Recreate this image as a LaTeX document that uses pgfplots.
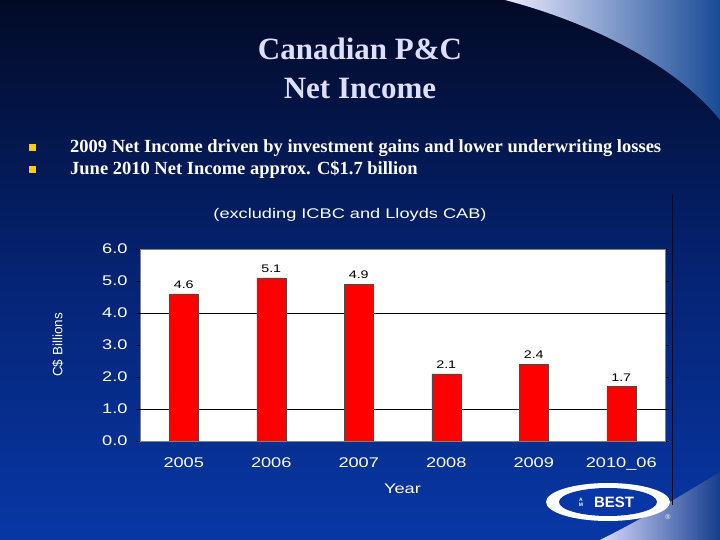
\documentclass[border=0pt]{standalone}
\usepackage{pgfplots}
\pgfplotsset{compat=1.18}
\usepackage{fontspec}
\setmainfont{Liberation Serif}
\newfontfamily\sans{Liberation Sans}
\newfontfamily\wsans[FakeStretch=1.3]{Liberation Sans}
\definecolor{navytop}{RGB}{2,10,38}
\definecolor{navymid}{RGB}{5,35,115}
\definecolor{navybot}{RGB}{8,55,165}
\definecolor{titlecol}{RGB}{222,222,255}
\definecolor{bulletcol}{RGB}{255,204,0}
\definecolor{gridgray}{RGB}{128,128,128}
\definecolor{barred}{RGB}{255,0,0}
\pgfplotstableread{
x y
0 4.6
1 5.1
2 4.9
3 2.1
4 2.4
5 1.7
}\netincome
\begin{document}
\begin{tikzpicture}[x=1pt,y=1pt]
\useasboundingbox (0,0) rectangle (720,540);
% background
\shade[top color=navytop, bottom color=navybot, middle color=navymid] (0,0) rectangle (720,540);
% top-right swoosh
\shade[left color=white!92!blue, right color={rgb,255:red,25;green,75;blue,150}]
  (505,540) .. controls (600,515) and (680,470) .. (720,420) -- (720,540) -- cycle;
% bottom-right swoosh
\shade[left color=white!85!blue, right color={rgb,255:red,20;green,60;blue,140}]
  (600,0) .. controls (650,25) and (690,50) .. (720,68) -- (720,0) -- cycle;
% title
\node[font=\bfseries\fontsize{31}{33}\selectfont, text=titlecol] at (360,491) {Canadian P\&C};
\node[font=\bfseries\fontsize{31}{33}\selectfont, text=titlecol] at (360,451) {Net Income};
% bullets
\fill[bulletcol] (29,389) rectangle (36,396);
\fill[bulletcol] (29,367) rectangle (36,374);
\node[anchor=base west, inner sep=0pt, text=white, font=\bfseries\fontsize{18.5}{20}\selectfont] at (70,387) {2009 Net Income driven by investment gains and lower underwriting losses};
\node[anchor=base west, inner sep=0pt, text=white, font=\bfseries\fontsize{18.5}{20}\selectfont] at (70,365) {June 2010 Net Income approx. C\$1.7 billion};
% chart frame line
\draw[navytop, line width=0.8pt] (672,345) -- (672,35);
% subtitle
\node[anchor=base, text=white, font=\wsans\fontsize{14}{16}\selectfont] at (350,321) {(excluding ICBC and Lloyds CAB)};
\begin{axis}[
  at={(140pt,99pt)}, anchor=south west,
  scale only axis, width=525pt, height=192pt,
  xmin=-0.5, xmax=5.5, ymin=0, ymax=6,
  xtick=data,
  xticklabels={2005,2006,2007,2008,2009,2010\_06},
  ytick={0,1,2,3,4,5,6},
  yticklabel style={xshift=-5pt, /pgf/number format/.cd, fixed, fixed zerofill, precision=1},
  /pgf/number format/assume math mode=true,
  tick label style={text=white, font=\wsans\fontsize{14}{15}\selectfont},
  xtick style={draw=none},
  ytick style={draw=black, thin},
  tick align=outside, major tick length=4pt,
  xticklabel style={yshift=-9pt},
  axis line style={gridgray, thick},
  axis background/.style={fill=white},
  extra y ticks={1,4}, extra y tick labels={},
  extra y tick style={grid=major, major grid style={black, semithick}, tick style={draw=none}},
  xlabel={Year}, ylabel={C\$ Billions},
  xlabel style={text=white, font=\wsans\fontsize{14}{16}\selectfont, yshift=-7pt},
  ylabel style={text=white, font=\sans\fontsize{13.5}{16}\selectfont, yshift=24pt},
  nodes near coords,
  every node near coord/.append style={yshift=2pt, text=black, font=\wsans\fontsize{11}{12}\selectfont, /pgf/number format/.cd, fixed, fixed zerofill, precision=1},
]
\addplot[ybar, bar width=29pt, fill=barred, draw=black!70, line width=0.5pt] table[x=x,y=y] {\netincome};
\end{axis}
% AM Best logo
\fill[white] (608,38) ellipse (62pt and 19pt);
\fill[navybot] (608,38) ellipse (49pt and 14pt);
\node[text=white, font=\sans\bfseries\fontsize{15}{16}\selectfont] at (614,38) {BEST};
\node[text=white, font=\sans\bfseries\fontsize{5}{5}\selectfont, align=center, inner sep=0pt] at (581,38) {A\\M};
\node[text=white, font=\sans\fontsize{7}{7}\selectfont] at (668,23) {\textregistered};
\end{tikzpicture}
\end{document}
